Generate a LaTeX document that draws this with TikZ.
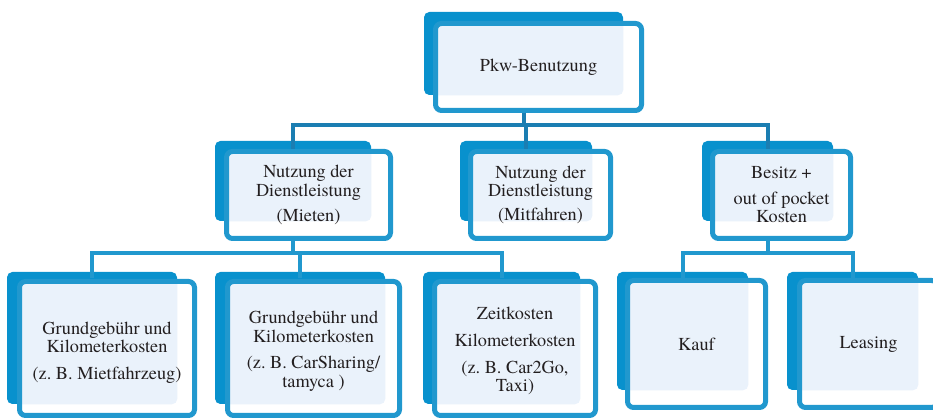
\documentclass[tikz,border=0pt]{standalone}
\usepackage{fontspec}
\setmainfont{texgyretermes-regular.otf}
\usetikzlibrary{fit}

\definecolor{backblue}{RGB}{8,145,205}
\definecolor{frameblue}{RGB}{33,152,206}
\definecolor{busblue}{RGB}{27,126,178}
\definecolor{lightfill}{RGB}{234,242,251}
\definecolor{textgray}{RGB}{35,31,32}

\tikzset{
  backbox/.style={fill=backblue, rounded corners=4pt, inner sep=0pt},
  frontbox/.style={draw=frameblue, line width=3.75pt, fill=white, rounded corners=4.5pt, inner sep=0pt,
    path picture={\fill[lightfill, rounded corners=4pt] (#1.north west) rectangle (#1.south east);}},
  boxtext/.style={align=center, text=textgray, inner sep=0pt, font=\fontsize{13.7}{14}\selectfont},
  link/.style={draw=frameblue, line width=3pt},
  buslink/.style={draw=busblue, line width=3pt}
}

\begin{document}
\frenchspacing
\begin{tikzpicture}[x=0.75pt,y=0.75pt,yscale=-1,xscale=1]
\useasboundingbox (0,0) rectangle (933,420);

%Top level
\node[backbox, fit={(424,12) (623,95)}] (pkw-b) {};
\node[frontbox=pkw-b, fit={(435.5,23.5) (641.5,110.5)},
  label={[boxtext, name=pkw-t]center:Pkw-Benutzung}] (pkw) {};

%Second level
\node[backbox, fit={(215,141) (371,221)}] (mieten-b) {};
\node[frontbox=mieten-b, fit={(226.5,151.5) (390.5,238.5)},
  label={[boxtext, name=mieten-t]center:Nutzung der\\Dienstleistung\\[5pt](Mieten)}] (mieten) {};

\node[backbox, fit={(460,141) (592,221)}] (mitfahren-b) {};
\node[frontbox=mitfahren-b, fit={(470.5,151.5) (610.5,238.5)},
  label={[boxtext, name=mitfahren-t]center:Nutzung der\\Dienstleistung\\[4pt](Mitfahren)}] (mitfahren) {};

\node[backbox, fit={(702,141) (833,221)}] (besitz-b) {};
\node[frontbox=besitz-b, fit={(712.5,151.5) (850.5,238.5)},
  label={[boxtext, name=besitz-t]center:Besitz +\\[5pt]out of pocket\\Kosten}] (besitz) {};

%Third level
\node[backbox, fit={(7,272) (177,404)}] (mietfz-b) {};
\node[frontbox=mietfz-b, fit={(19.5,281.5) (194.5,415.5)},
  label={[boxtext, yshift=-3pt, name=mietfz-t]center:Grundgebühr und\\Kilometerkosten\\[6pt](z. B. Mietfahrzeug)}] (mietfz) {};

\node[backbox, fit={(215,272) (385,404)}] (carsharing-b) {};
\node[frontbox=carsharing-b, fit={(227.5,281.5) (399.5,415.5)},
  label={[boxtext, yshift=-2pt, name=carsharing-t]center:Grundgebühr und\\Kilometerkosten\\[6pt](z. B. CarSharing/\\tamyca\ )}] (carsharing) {};

\node[backbox, fit={(423,272) (580,404)}] (cartogo-b) {};
\node[frontbox=cartogo-b, fit={(434.5,281.5) (595.5,415.5)},
  label={[boxtext, yshift=-2pt, name=cartogo-t]center:Zeitkosten\\[6pt]Kilometerkosten\\[6pt](z. B. Car2Go,\\Taxi)}] (cartogo) {};

\node[backbox, fit={(617,272) (748,390)}] (kauf-b) {};
\node[frontbox=kauf-b, fit={(627.5,280.5) (765.5,407.5)},
  label={[boxtext, name=kauf-t]center:Kauf}] (kauf) {};

\node[backbox, fit={(787,272) (918,390)}] (leasing-b) {};
\node[frontbox=leasing-b, fit={(799.5,280.5) (937.5,407.5)},
  label={[boxtext, name=leasing-t]center:Leasing}] (leasing) {};

%Connectors
\foreach \child in {mieten,mitfahren,besitz}
  \draw[buslink] (pkw-b.south |- pkw.south) -- ++(0,12) -| ([yshift=6pt]\child-b.north);
\foreach \child in {mietfz,carsharing,cartogo}
  \draw[link] (mieten-b.south |- mieten.south) -- ++(0,12) -| ([yshift=5pt]\child-b.north);
\foreach \child in {kauf,leasing}
  \draw[link] (besitz-b.south |- besitz.south) -- ++(0,12) -| ([yshift=5pt]\child-b.north);
\end{tikzpicture}
\end{document}
